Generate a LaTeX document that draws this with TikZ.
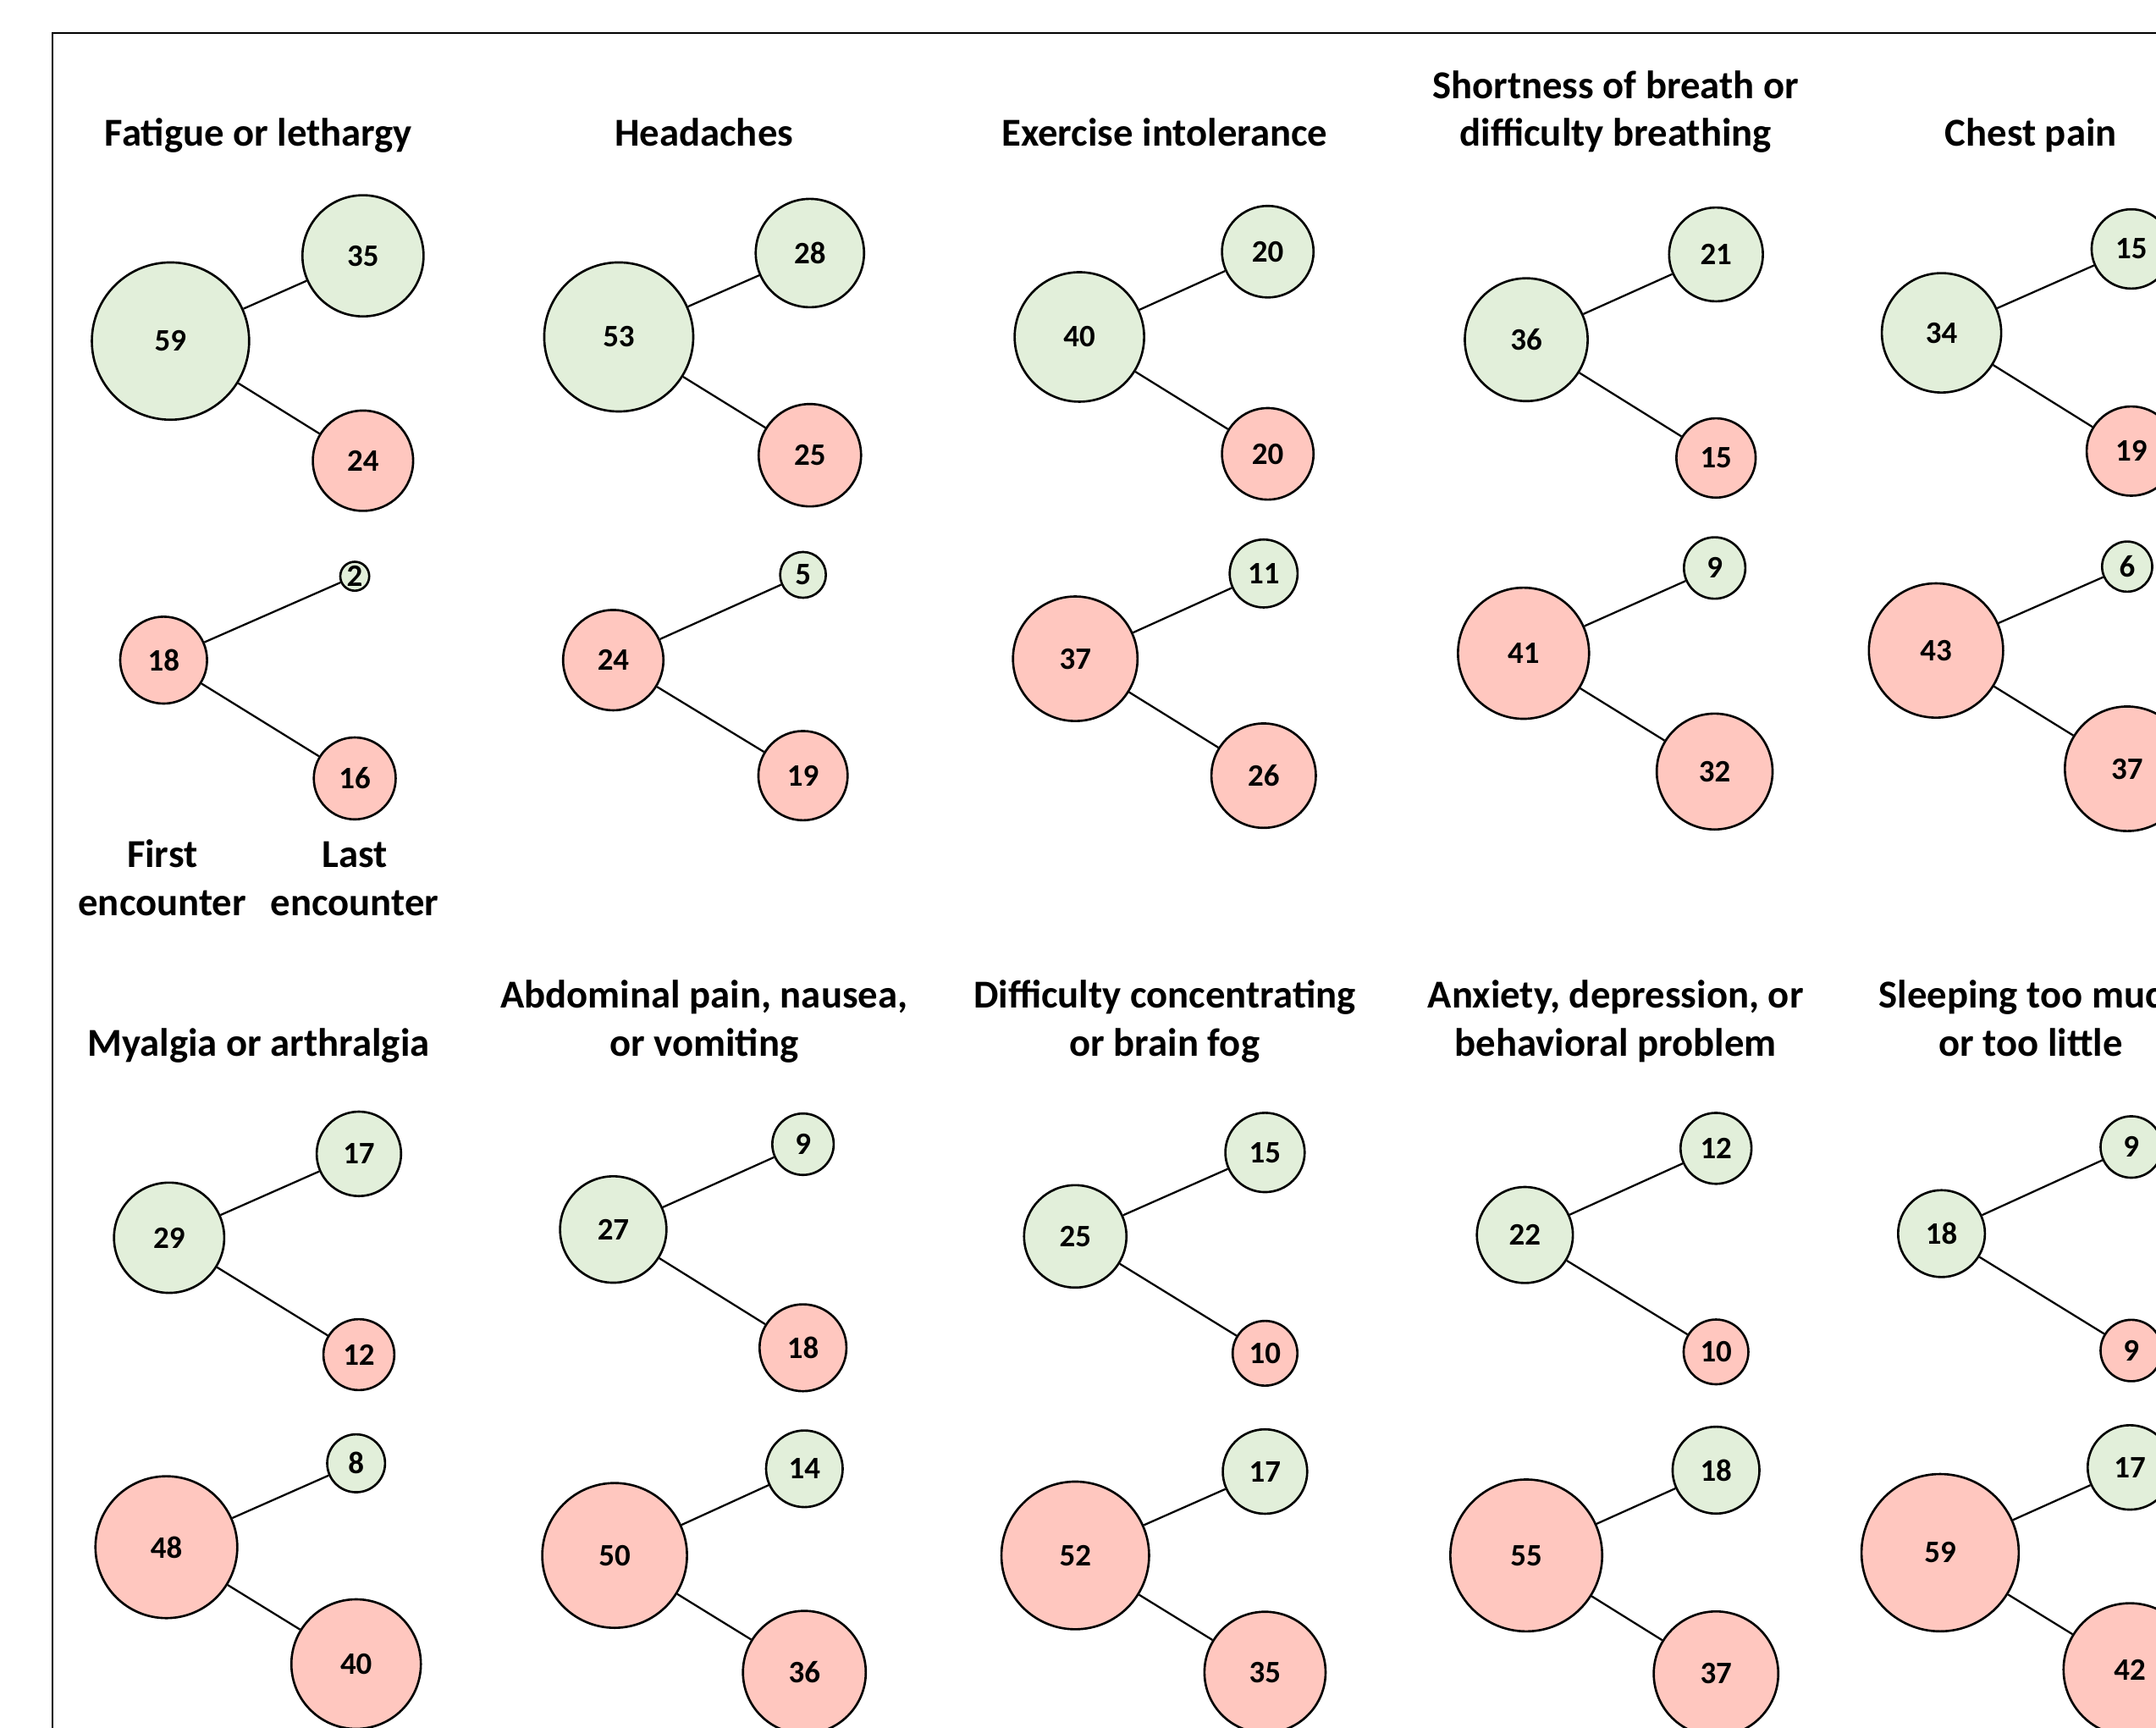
\documentclass[tikz,border=0pt]{standalone}
\usepackage{fontspec}
\setmainfont{Carlito}
\definecolor{gfill}{HTML}{E2EFDA}
\definecolor{rfill}{HTML}{FFC7BF}
\begin{document}
\begin{tikzpicture}[x=0.016244cm,y=-0.016244cm,
  bub/.style={circle,draw=black,line width=0.75pt,inner sep=0pt,
    minimum size={6.885*sqrt(#1)},font=\fontsize{10.5}{12}\selectfont\bfseries},
  ttl/.style={align=center,anchor=base,inner sep=0pt,font=\fontsize{13.3}{16.2}\selectfont\bfseries},
  link/.style={line width=0.65pt}]
\useasboundingbox (0,0) rectangle (1568,1256);
\clip (0,0) rectangle (1568,1256);
\draw[line width=0.6pt] (38,24) rectangle (1600,1300);
% titles
\node[ttl] (t1) at (188,106.5) {Fatigue or lethargy};
\node[ttl] (t2) at (512,106.5) {Headaches};
\node[ttl] (t3) at (847,106.5) {Exercise intolerance};
\node[ttl] (t4) at (1175,106.5) {Shortness of breath or\\difficulty breathing};
\node[ttl] (t5) at (1477,106.5) {Chest pain};
\node[ttl] (t6) at (188,768) {Myalgia or arthralgia};
\node[ttl] (t7) at (512,768) {Abdominal pain, nausea,\\or vomiting};
\node[ttl] (t8) at (847,768) {Difficulty concentrating\\or brain fog};
\node[ttl] (t9) at (1175,768) {Anxiety, depression, or\\behavioral problem};
\node[ttl] (t10) at (1477,768) {Sleeping too much\\or too little};
\node[ttl] (lf) at (118,666) {First\\encounter};
\node[ttl] (ll) at (258,666) {Last\\encounter};
% panels
\foreach \n/\px/\py/\pv/\pc/\gx/\gy/\gv/\rx/\ry/\rv in {
a1/124/248/59/gfill/264/186/35/264/335/24,
a2/450/245/53/gfill/589/184/28/589/331/25,
a3/785/245/40/gfill/922/183/20/922/330/20,
a4/1110/247/36/gfill/1248/185/21/1248/333/15,
a5/1412/242/34/gfill/1550/181/15/1550/328/19,
b1/119/480/18/rfill/258/419/2/258/566/16,
b2/446/480/24/rfill/584/418/5/584/564/19,
b3/782/479/37/rfill/919/417/11/919/564/26,
b4/1108/475/41/rfill/1247/413/9/1247/561/32,
b5/1408/473/43/rfill/1547/412/6/1547/559/37,
c1/123/900/29/gfill/261/839/17/261/985/12,
c2/446/894/27/gfill/584/832/9/584/980/18,
c3/782/899/25/gfill/920/838/15/920/984/10,
c4/1109/898/22/gfill/1248/835/12/1248/983/10,
c5/1412/897/18/gfill/1550/834/9/1550/982/9,
d1/121/1125/48/rfill/259/1064/8/259/1210/40,
d2/447/1131/50/rfill/585/1068/14/585/1216/36,
d3/782/1131/52/rfill/920/1070/17/920/1216/35,
d4/1110/1131/55/rfill/1248/1069/18/1248/1217/37,
d5/1411/1129/59/rfill/1549/1067/17/1549/1214/42}
{
  \node[bub=\pv,fill=\pc] (p\n) at (\px,\py) {\pv};
  \node[bub=\gv,fill=gfill] (g\n) at (\gx,\gy) {\gv};
  \node[bub=\rv,fill=rfill] (r\n) at (\rx,\ry) {\rv};
  \draw[link] (p\n) -- (g\n);
  \draw[link] (p\n) -- (r\n);
}
\end{tikzpicture}
\end{document}
